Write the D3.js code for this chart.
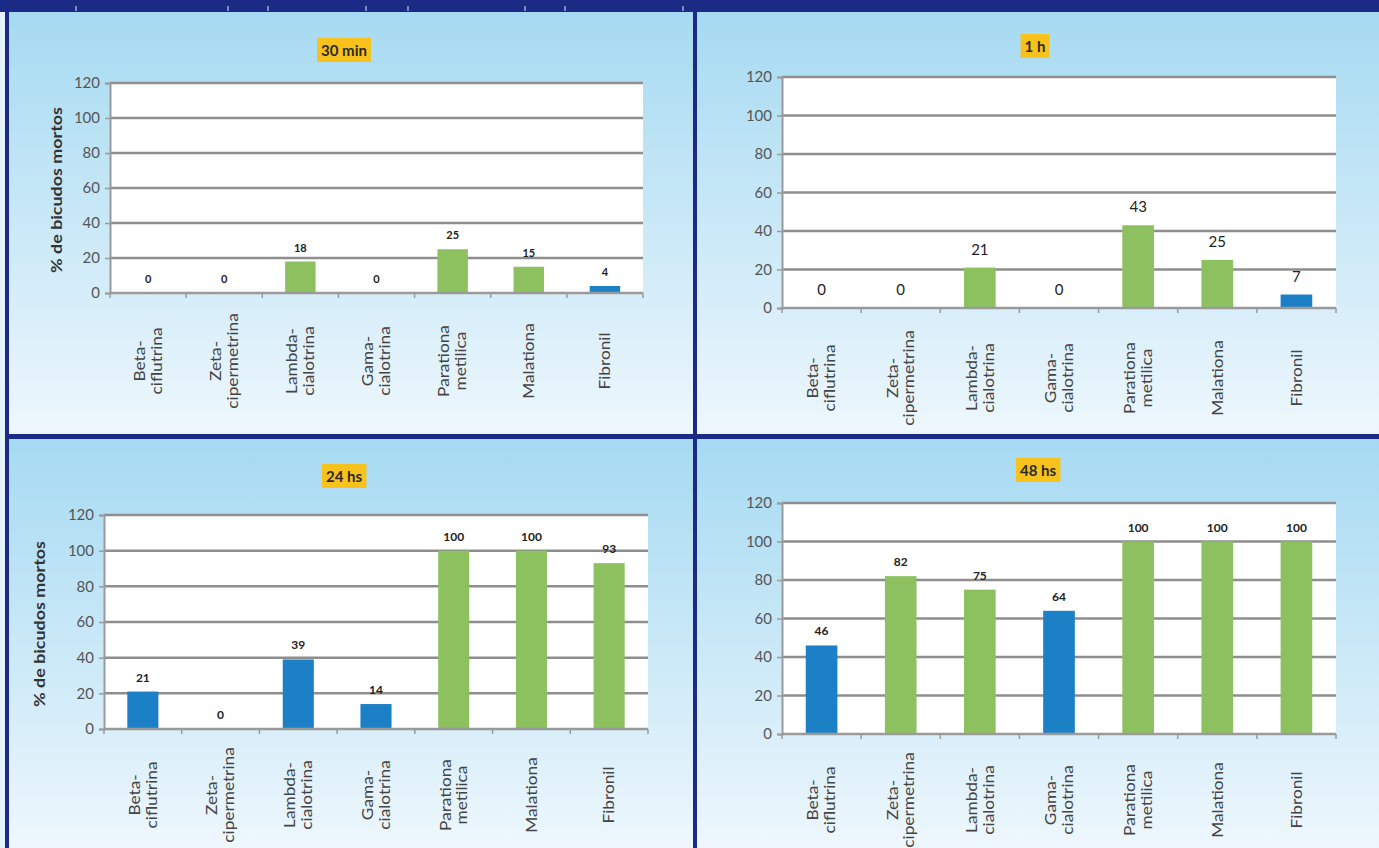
<!DOCTYPE html>
<html>
<head>
<meta charset="utf-8">
<script src="https://cdn.jsdelivr.net/npm/d3@7"></script>
<style>
  body { margin: 0; background: #1b2a84; }
  svg { display: block; font-family: Lato, "Open Sans", sans-serif; }
</style>
</head>
<body>
<div id="area"></div>
<script>
// categorias (eje x), una entrada por insecticida, partidas en lineas
var categorias = [["Beta-", "ciflutrina"], ["Zeta-", "cipermetrina"], ["Lambda-", "cialotrina"],
                  ["Gama-", "cialotrina"], ["Parationa", "metilica"], ["Malationa"], ["Fibronil"]];
var yTicks = [0, 20, 40, 60, 80, 100, 120];

// % de bicudos mortos por tiempo
var titulos = ["30 min", "1 h", "24 hs", "48 hs"];
var valores30min = [0, 0, 18, 0, 25, 15, 4];
var valores1h    = [0, 0, 21, 0, 43, 25, 7];
var valores24hs  = [21, 0, 39, 14, 100, 100, 93];
var valores48hs  = [46, 82, 75, 64, 100, 100, 100];

// grupo de cada barra (a = verde, b = azul)
var grupos30min = ["a", "a", "a", "a", "a", "a", "b"];
var grupos1h    = ["a", "a", "a", "a", "a", "a", "b"];
var grupos24hs  = ["b", "b", "b", "b", "a", "a", "a"];
var grupos48hs  = ["b", "a", "a", "b", "a", "a", "a"];

var yTitulo = "% de bicudos mortos";

var W = 1379, H = 848;
var color = d3.scaleOrdinal().domain(["a", "b"]).range(["#8dc160", "#1c80c6"]);

var svg = d3.select("#area").append("svg")
    .attr("width", W).attr("height", H)
    .attr("viewBox", [0, 0, W, H].join(" "));

var defs = svg.append("defs");
var grad = defs.append("linearGradient").attr("id", "fondo")
    .attr("x1", 0).attr("y1", 0).attr("x2", 0).attr("y2", 1);
grad.append("stop").attr("offset", "0%").attr("stop-color", "#a6daf2");
grad.append("stop").attr("offset", "45%").attr("stop-color", "#c6e7f7");
grad.append("stop").attr("offset", "100%").attr("stop-color", "#eef7fd");

// fondo azul oscuro y franja clara a la izquierda
svg.append("rect").attr("width", W).attr("height", H).attr("fill", "#1b2a84");
svg.append("rect").attr("x", 0).attr("y", 12).attr("width", 5).attr("height", H - 12).attr("fill", "#e4f2fb");

// marcas blancas de la tabla superior
[76, 228, 268, 366, 408, 525, 565, 683].forEach(function(x) {
  svg.append("line").attr("x1", x).attr("x2", x).attr("y1", 6).attr("y2", 11)
     .attr("stroke", "#dfe6ff").attr("stroke-width", 1);
});

var paneles = [
  {titulo: titulos[0], valores: valores30min, grupos: grupos30min,
   frame: [9, 12, 684, 422], plot: [110, 643, 83, 293], tituloXY: [344, 50],
   yTit: 62, tickFs: 15, valFs: 11, valBold: true, valOff: 10, catFs: 15, catOff: 68},
  {titulo: titulos[1], valores: valores1h, grupos: grupos1h,
   frame: [697, 12, 682, 422], plot: [782, 1336, 77, 308], tituloXY: [1035, 46],
   yTit: null, tickFs: 15, valFs: 15, valBold: false, valOff: 13, catFs: 15, catOff: 70},
  {titulo: titulos[2], valores: valores24hs, grupos: grupos24hs,
   frame: [9, 439, 684, 409], plot: [104, 648, 515, 729], tituloXY: [344, 476],
   yTit: 45, tickFs: 15, valFs: 12, valBold: true, valOff: 10, catFs: 15, catOff: 66},
  {titulo: titulos[3], valores: valores48hs, grupos: grupos48hs,
   frame: [697, 439, 682, 409], plot: [782, 1336, 503, 734], tituloXY: [1038, 470],
   yTit: null, tickFs: 15, valFs: 12, valBold: true, valOff: 10, catFs: 15, catOff: 66}
];

paneles.forEach(function(p) {
  var g = svg.append("g");
  g.append("rect")
   .attr("x", p.frame[0]).attr("y", p.frame[1])
   .attr("width", p.frame[2]).attr("height", p.frame[3])
   .attr("fill", "url(#fondo)");

  var x = d3.scaleBand().domain(d3.range(categorias.length))
      .range([p.plot[0], p.plot[1]]).paddingInner(0.6).paddingOuter(0.3);
  var xb = d3.scaleBand().domain(d3.range(categorias.length))
      .range([p.plot[0], p.plot[1]]);
  var y = d3.scaleLinear().domain([0, 120]).range([p.plot[3], p.plot[2]]);

  // area del grafico
  g.append("rect")
   .attr("x", p.plot[0]).attr("y", p.plot[2])
   .attr("width", p.plot[1] - p.plot[0]).attr("height", p.plot[3] - p.plot[2])
   .attr("fill", "#ffffff");

  // lineas de division
  g.append("g").selectAll("line")
   .data(yTicks.filter(function(d) { return d > 0; }))
   .enter().append("line")
    .attr("x1", p.plot[0]).attr("x2", p.plot[1])
    .attr("y1", function(d) { return y(d); }).attr("y2", function(d) { return y(d); })
    .attr("stroke", "#8e8e8e").attr("stroke-width", 2.5);

  // eje y
  var ay = g.append("g").attr("transform", "translate(" + p.plot[0] + ",0)")
      .call(d3.axisLeft(y).tickValues(yTicks).tickSize(5).tickPadding(5));
  ay.select(".domain").attr("stroke", "#9a9a9a").attr("stroke-width", 2);
  ay.selectAll(".tick line").attr("stroke", "#9a9a9a").attr("stroke-width", 1.5);
  ay.selectAll("text").attr("fill", "#555").style("font-size", p.tickFs + "px")
    .style("font-family", "Lato, sans-serif");

  // barras
  g.append("g").selectAll("rect")
   .data(p.valores)
   .enter().append("rect")
    .attr("x", function(d, i) { return x(i); })
    .attr("width", x.bandwidth())
    .attr("y", function(d) { return y(d); })
    .attr("height", function(d) { return y(0) - y(d); })
    .attr("fill", function(d, i) { return color(p.grupos[i]); });

  // eje x
  var ax = g.append("g").attr("transform", "translate(0," + p.plot[3] + ")");
  ax.append("line").attr("x1", p.plot[0]).attr("x2", p.plot[1])
    .attr("stroke", "#9a9a9a").attr("stroke-width", 2.5);
  ax.selectAll(".xt").data(d3.range(categorias.length + 1))
    .enter().append("line").attr("class", "xt")
    .attr("x1", function(i) { return p.plot[0] + i * xb.step(); })
    .attr("x2", function(i) { return p.plot[0] + i * xb.step(); })
    .attr("y1", 0).attr("y2", 5)
    .attr("stroke", "#9a9a9a").attr("stroke-width", 1.5);

  // etiquetas de categorias (rotadas, algo estiradas como en el original)
  ax.selectAll(".cat").data(categorias)
    .enter().append("text").attr("class", "cat")
    .attr("transform", function(d, i) {
      return "translate(" + (xb(i) + xb.bandwidth() / 2) + "," + p.catOff + ") rotate(-90) scale(1.15,1)";
    })
    .attr("text-anchor", "middle")
    .attr("fill", "#444")
    .style("font-size", p.catFs + "px")
    .each(function(lines) {
      var t = d3.select(this);
      var first = -(lines.length - 1) * 0.56 + 0.35;
      lines.forEach(function(l, k) {
        t.append("tspan").attr("x", 0).attr("dy", (k === 0 ? first : 1.12) + "em").text(l);
      });
    });

  // valores sobre las barras
  g.append("g").selectAll("text")
   .data(p.valores)
   .enter().append("text")
    .attr("x", function(d, i) { return x(i) + x.bandwidth() / 2; })
    .attr("y", function(d) { return y(d) - p.valOff; })
    .attr("text-anchor", "middle")
    .attr("fill", "#222")
    .style("font-size", p.valFs + "px")
    .style("font-weight", p.valBold ? "bold" : "normal")
    .text(function(d) { return d; });

  // titulo del eje y
  if (p.yTit !== null) {
    g.append("text")
     .attr("transform", "translate(" + p.yTit + "," + ((p.plot[2] + p.plot[3]) / 2 + 2) + ") rotate(-90) scale(1.12,1)")
     .attr("text-anchor", "middle")
     .attr("fill", "#333")
     .style("font-size", "16px").style("font-weight", "bold")
     .text(yTitulo);
  }

  // titulo del panel con recuadro amarillo
  var caja = g.append("rect").attr("fill", "#f7c21c");
  var tt = g.append("text")
    .attr("x", p.tituloXY[0]).attr("y", p.tituloXY[1])
    .attr("text-anchor", "middle").attr("dominant-baseline", "central")
    .attr("fill", "#2a2a2a")
    .style("font-size", "15px").style("font-weight", "bold")
    .text(p.titulo);
  var bb = tt.node().getBBox();
  caja.attr("x", bb.x - 4).attr("y", p.tituloXY[1] - 12)
      .attr("width", bb.width + 8).attr("height", 24);
});
</script>
</body>
</html>
